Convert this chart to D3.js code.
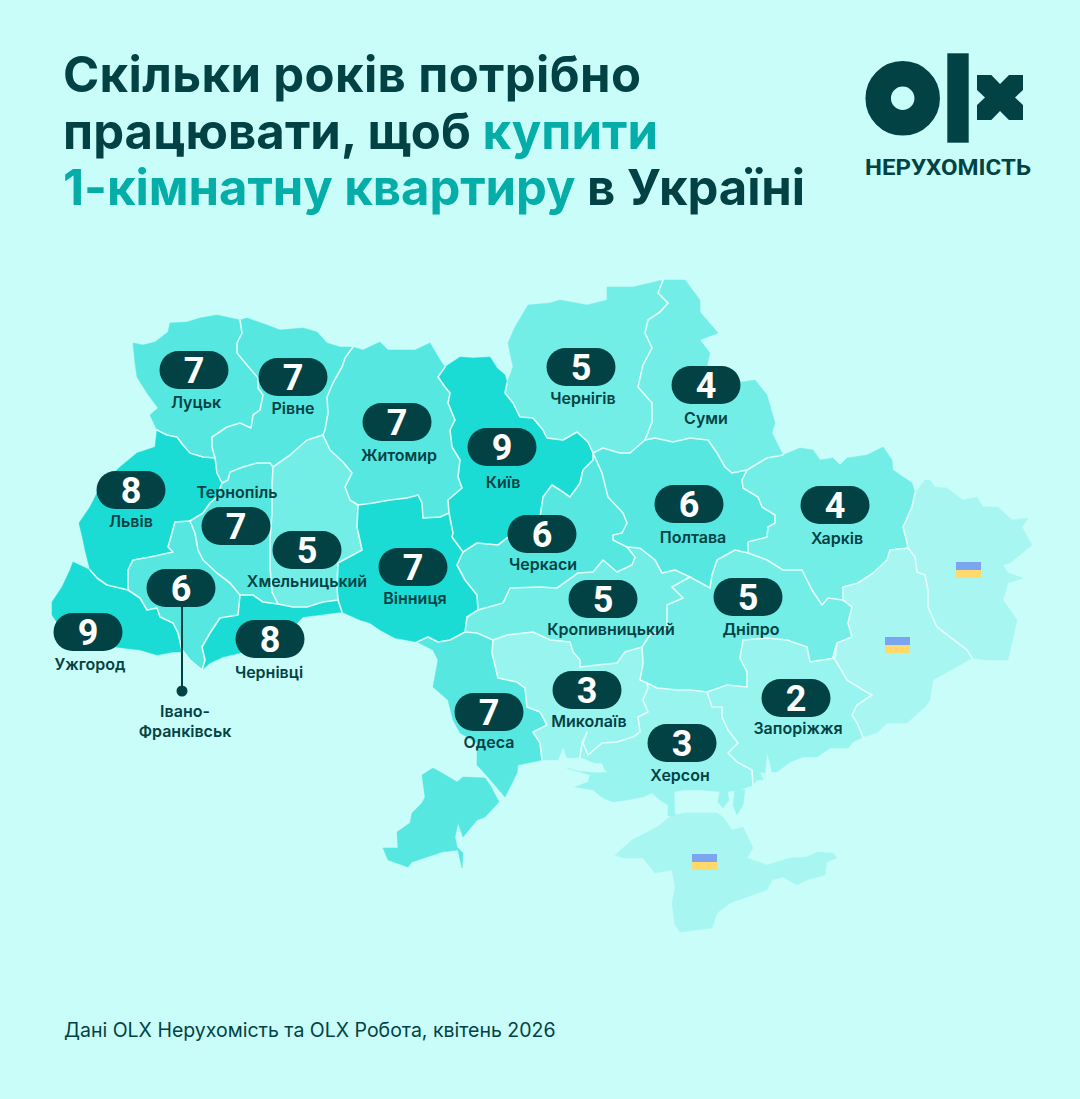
<!DOCTYPE html>
<html>
<head>
<meta charset="utf-8">
<script src="https://cdn.jsdelivr.net/npm/d3@7"></script>
<style>
  html, body { margin: 0; padding: 0; background: #c8fdf9; }
  text { font-family: "Inter", "Noto Sans", sans-serif; }
</style>
</head>
<body>
<div id="chart"></div>
<script>
// the values of the chart
const region_names = ["Луцьк", "Рівне", "Житомир", "Чернігів", "Суми", "Київ", "Львів", "Тернопіль", "Хмельницький", "Вінниця", "Черкаси", "Полтава", "Харків", "Кропивницький", "Дніпро", "Івано-Франківськ", "Чернівці", "Ужгород", "Одеса", "Миколаїв", "Херсон", "Запоріжжя"]
const region_years = [7, 7, 7, 5, 4, 9, 8, 7, 5, 7, 6, 6, 4, 5, 5, 6, 8, 9, 7, 3, 3, 2]
const region_shades = [2, 2, 2, 3, 3, 1, 1, 2, 3, 1, 2, 2, 3, 3, 3, 2, 1, 1, 2, 4, 4, 4]
const title_lines = [
  [["Скільки років потрібно", false]],
  [["працювати, щоб ", false], ["купити", true]],
  [["1-кімнатну квартиру", true], [" в Україні", false]]
]
const title_widths = [578, 595, 742]
const footer_text = "Дані OLX Нерухомість та OLX Робота, квітень 2026"
const logo_caption = "НЕРУХОМІСТЬ"

// pill centre, label centre for every region, same order as region_names
const pill_centres = [[194,370],[293,377],[397,422],[581,367],[706,385],[502,447],[131,490],[236,526],[307,550],[413,567],[542,534],[689,504],[835,505],[603,599],[748,597],[181,588],[270,639],[88,632],[489,712],[587,690],[682,743],[796,698]]
const label_centres = [[196,402],[293,408],[399,455],[583,398],[706,418],[503,482],[131,521],[237,492],[307,581],[415,598],[543,564],[693,537],[837,538],[611,629],[751,629],[185,711],[269,672],[90,664],[489,742],[589,721],[680,775],[798,728]]
const flag_corners = [[956,562],[885,637],[692,854]]

// region outlines, shared borders kept as arcs
const arcs = {
  vol_out: [[157,430],[150,415],[158,408],[147,393],[137,377],[135,363],[133,343],[143,345],[155,342],[168,332],[170,323],[187,322],[200,318],[217,315],[240,320]],
  vol_riv: [[240,320],[242,333],[237,343],[237,353],[247,365],[258,378],[258,388],[263,395],[260,410],[253,415],[251,428],[240,423],[227,427],[212,437],[212,447],[215,458]],
  vol_lvi: [[157,430],[167,435],[177,437],[183,445],[190,453],[203,457],[215,458]],
  riv_out: [[240,320],[247,318],[267,325],[280,330],[303,328],[317,332],[327,343],[340,347],[353,347]],
  riv_zhy: [[353,347],[345,358],[342,367],[333,383],[327,397],[328,413],[325,430],[323,435]],
  riv_khm: [[323,435],[307,440],[290,455],[273,467]],
  riv_ter: [[273,467],[270,463],[257,463],[243,467],[230,472],[228,480],[222,483]],
  riv_lvi: [[215,458],[217,473],[222,483]],
  ter_lvi: [[222,483],[217,497],[210,503],[203,513],[190,521]],
  ter_ivn: [[190,521],[195,533],[198,550],[203,560],[217,573],[230,583],[240,595]],
  ter_che: [[240,595],[253,595],[263,602],[278,604]],
  ter_khm: [[278,604],[272,592],[270,567],[270,540],[272,513],[272,487],[273,467]],
  khm_zhy: [[323,435],[330,450],[343,462],[352,473],[345,487],[350,500],[358,505]],
  khm_vin: [[358,505],[357,527],[362,550],[338,563],[337,587],[338,600]],
  khm_che: [[278,604],[293,607],[307,607],[323,602],[338,600]],
  che_vin: [[338,600],[342,612]],
  che_out: [[202,670],[210,663],[223,657],[240,653],[297,623],[303,617],[342,612]],
  ivn_che: [[240,595],[238,615],[220,618],[210,633],[202,647],[205,660],[202,670]],
  ivn_lvi: [[190,521],[175,522],[172,533],[168,547],[173,552],[150,557],[133,560],[128,570],[128,590]],
  zak_ivn: [[128,590],[140,598],[147,610],[157,608],[160,617],[173,623],[178,633],[182,650],[190,660],[202,670]],
  lvi_out: [[157,430],[155,447],[137,453],[120,467],[100,487],[90,507],[79,523],[83,540],[85,550],[90,570]],
  lvi_zak: [[90,570],[97,578],[107,585],[128,590]],
  zak_out: [[90,570],[73,562],[70,570],[62,587],[52,602],[52,615],[62,630],[80,640],[100,645],[123,648],[140,650],[157,655],[173,652],[183,652],[190,660],[202,670]],
  zhy_out: [[353,347],[363,350],[380,342],[388,350],[407,350],[415,350],[430,343],[440,360],[445,367]],
  zhy_kyi: [[445,367],[438,377],[445,387],[450,393],[448,403],[455,420],[450,430],[452,447],[460,460],[458,477],[462,488],[448,500],[449,513]],
  zhy_vin: [[358,505],[373,503],[390,500],[407,498],[418,495],[422,503],[423,518],[440,517],[449,513]],
  vin_kyi: [[449,513],[453,533],[452,537],[463,552]],
  vin_cher: [[463,552],[457,565],[465,580],[477,595],[478,610]],
  vin_kro: [[478,610],[467,617],[465,632]],
  vin_ode: [[465,632],[450,640],[438,642],[428,637],[417,642]],
  vin_out: [[342,612],[360,620],[370,623],[380,630],[395,638],[417,642]],
  kyi_out: [[445,367],[460,357],[473,358],[490,357],[497,368],[505,375],[507,383]],
  kyi_chn: [[507,383],[505,393],[513,403],[520,417],[533,418],[543,430],[547,438],[563,440],[577,432],[588,442],[593,453]],
  kyi_cher: [[593,453],[593,460],[583,470],[580,483],[570,497],[560,490],[552,485],[543,497],[540,517],[507,538],[498,545],[477,543],[463,552]],
  chn_out: [[507,383],[513,367],[508,343],[515,327],[528,305],[550,303],[560,300],[587,305],[607,300],[607,287],[633,287],[663,280]],
  chn_sum: [[663,280],[658,293],[668,303],[660,312],[648,320],[645,333],[652,348],[643,365],[638,387],[652,403],[652,422],[645,440]],
  chn_pol: [[645,440],[630,453],[620,453],[603,448],[593,453]],
  sum_out: [[663,280],[685,280],[700,300],[700,312],[718,333],[700,340],[710,353],[707,365],[725,378],[742,382],[755,380],[767,395],[775,423],[772,433],[783,455]],
  sum_kha: [[783,455],[767,458],[747,470]],
  sum_pol: [[747,470],[732,473],[725,467],[717,453],[708,440],[690,438],[673,442],[655,438],[645,440]],
  kha_out: [[783,455],[800,448],[813,450],[820,460],[833,458],[840,465],[847,458],[867,455],[883,447],[892,460],[893,470],[912,483],[915,493]],
  kha_luh: [[915,493],[912,507],[903,527],[907,542],[908,548]],
  kha_don: [[908,548],[890,550],[887,560],[873,573],[858,583],[843,587],[843,600]],
  kha_dni: [[843,600],[828,598],[822,605],[812,590],[802,570],[783,570],[767,560],[748,553]],
  kha_pol: [[748,553],[748,542],[767,537],[768,527],[775,523],[775,515],[762,507],[758,497],[743,488],[742,480],[747,470]],
  luh_out: [[915,493],[925,480],[930,480],[935,487],[947,488],[963,500],[977,497],[983,507],[998,507],[1012,520],[1028,518],[1022,527],[1032,545],[1010,563],[1003,565],[1008,573],[1023,578],[1008,583],[1003,600],[1017,620],[1008,660],[987,660],[972,658]],
  luh_don: [[908,548],[915,557],[917,572],[925,575],[928,590],[928,607],[937,627],[950,637],[967,650],[972,658]],
  don_coast: [[972,658],[960,665],[933,680],[930,700],[925,707],[907,723],[887,723],[877,733],[863,737]],
  don_zap: [[863,737],[857,723],[852,715],[857,705],[872,695],[863,690],[847,680],[837,663],[833,657],[837,643]],
  don_dni: [[843,600],[852,607],[848,623],[852,637],[837,643]],
  dni_zap: [[837,643],[835,658],[810,662],[807,647],[787,640],[767,638],[743,640],[740,658],[747,672],[747,687],[727,685],[707,692]],
  dni_khe: [[707,692],[690,690],[677,690],[657,688],[647,683]],
  dni_myk: [[647,683],[640,680],[643,663],[642,647]],
  dni_kro: [[642,647],[650,635],[667,628],[667,605],[683,598],[672,587],[690,577]],
  dni_pol: [[690,577],[710,588],[712,575],[717,560],[735,550],[748,553]],
  pol_kro: [[690,577],[675,570],[662,573],[655,560],[640,548],[627,547]],
  pol_cher: [[593,453],[602,473],[608,497],[623,513],[627,523],[622,533],[613,535],[613,540],[627,547]],
  cher_kro: [[627,547],[635,557],[632,565],[617,572],[603,560],[593,572],[578,573],[557,588],[540,587],[510,588],[503,603],[478,610]],
  kro_ode: [[465,632],[477,633],[493,640]],
  kro_myk: [[493,640],[507,635],[533,632],[550,640],[570,642],[573,652],[580,660],[580,667],[597,665],[617,663],[625,652],[642,647]],
  myk_ode: [[493,640],[492,653],[498,678],[517,682],[525,688],[527,707],[540,712],[547,725],[533,732],[540,743],[542,760]],
  ode_out: [[417,642],[433,650],[438,660],[433,687],[448,700],[453,720],[460,733],[477,743],[477,765],[488,777],[505,797],[517,773],[518,765],[542,760]],
  myk_khe: [[647,683],[648,688],[643,700],[648,712],[638,717],[640,732],[633,737],[617,742],[602,743],[588,755],[583,743],[587,732],[582,743],[580,757]],
  myk_coast: [[580,757],[573,758],[567,758],[563,747],[558,760],[542,760]],
  khe_coast: [[580,757],[595,763],[602,763],[605,770],[608,772],[597,773],[587,772],[577,771],[567,768],[580,772],[590,775],[588,782],[575,787],[593,790],[603,798],[613,802],[627,800],[643,797],[652,793],[660,800],[668,805],[668,816],[675,816],[674,792],[683,790],[703,790],[723,792],[740,790],[753,785]],
  khe_zap: [[707,692],[712,707],[722,707],[722,717],[728,730],[738,743],[728,753],[737,762],[752,770],[753,785]],
  zap_coast: [[753,785],[757,780],[763,780],[760,772],[765,773],[767,753],[770,763],[772,772],[777,772],[790,762],[803,757],[817,757],[830,748],[848,748],[853,742],[863,737]]
}

// pieces with no shared border
const budjak_ring = [[433,768],[422,775],[425,797],[422,803],[412,813],[410,823],[397,832],[398,848],[383,848],[388,860],[408,867],[412,862],[427,857],[442,852],[458,850],[462,868],[463,853],[457,847],[455,837],[458,823],[463,837],[477,820],[485,817],[499,802],[490,785],[485,778],[463,777],[457,782],[442,773],[433,768]]
const crimea_ring = [[615,855],[632,840],[657,827],[672,815],[687,813],[700,813],[717,813],[723,817],[732,830],[743,827],[753,848],[747,858],[767,865],[790,858],[807,857],[817,852],[833,853],[837,858],[827,862],[825,875],[807,880],[797,885],[783,877],[772,880],[767,890],[747,897],[730,903],[717,913],[712,928],[697,930],[680,932],[675,925],[672,903],[675,887],[672,870],[655,873],[643,858],[623,858],[615,855]]
const sivash_rings = [
  [[720,790],[727,790],[729,800],[723,808],[718,802],[720,790]],
  [[735,790],[745,790],[743,805],[737,815],[733,805],[735,790]]
]

const region_rings = {
  "Луцьк": ["vol_out", "vol_riv", "-vol_lvi"],
  "Рівне": ["riv_out", "riv_zhy", "riv_khm", "riv_ter", "-riv_lvi", "-vol_riv"],
  "Житомир": ["zhy_out", "zhy_kyi", "-zhy_vin", "-khm_zhy", "-riv_zhy"],
  "Чернігів": ["chn_out", "chn_sum", "chn_pol", "-kyi_chn"],
  "Суми": ["sum_out", "sum_kha", "sum_pol", "-chn_sum"],
  "Київ": ["kyi_out", "kyi_chn", "kyi_cher", "-vin_kyi", "-zhy_kyi"],
  "Львів": ["lvi_out", "lvi_zak", "-ivn_lvi", "-ter_lvi", "-riv_lvi", "-vol_lvi"],
  "Тернопіль": ["ter_lvi", "ter_ivn", "ter_che", "ter_khm", "riv_ter"],
  "Хмельницький": ["-riv_khm", "khm_zhy", "khm_vin", "-khm_che", "ter_khm"],
  "Вінниця": ["zhy_vin", "vin_kyi", "vin_cher", "vin_kro", "vin_ode", "-vin_out", "-che_vin", "-khm_vin"],
  "Черкаси": ["pol_cher", "cher_kro", "-vin_cher", "-kyi_cher"],
  "Полтава": ["-sum_pol", "-kha_pol", "-dni_pol", "pol_kro", "-pol_cher", "-chn_pol"],
  "Харків": ["kha_out", "kha_luh", "kha_don", "kha_dni", "kha_pol", "-sum_kha"],
  "Кропивницький": ["cher_kro", "vin_kro", "kro_ode", "kro_myk", "dni_kro", "pol_kro"],
  "Дніпро": ["don_dni", "dni_zap", "dni_khe", "dni_myk", "dni_kro", "dni_pol", "-kha_dni"],
  "Івано-Франківськ": ["ter_ivn", "ivn_che", "-zak_ivn", "-ivn_lvi"],
  "Чернівці": ["ter_che", "khm_che", "che_vin", "-che_out", "-ivn_che"],
  "Ужгород": ["zak_out", "-zak_ivn", "-lvi_zak"],
  "Одеса": ["ode_out", "-myk_ode", "-kro_ode", "vin_ode"],
  "Миколаїв": ["-kro_myk", "myk_ode", "-myk_coast", "-myk_khe", "dni_myk"],
  "Херсон": ["-dni_khe", "khe_zap", "-khe_coast", "-myk_khe"],
  "Запоріжжя": ["-dni_zap", "-don_zap", "-zap_coast", "-khe_zap"]
}
const occupied_rings = [
  ["luh_out", "-luh_don", "-kha_luh"],
  ["luh_don", "don_coast", "don_zap", "-don_dni", "-kha_don"]
]

const width = 1080
const height = 1099
const text_dark = "#034244"
const teal = "#04ada7"
const border_color = "#e2fffb"

const ring_from_arcs = (names) => {
  let ring = []
  for (const name of names) {
    let points = name.startsWith("-") ? arcs[name.slice(1)].slice().reverse() : arcs[name]
    ring = ring.concat(points)
  }
  return ring
}

const shade_scale = d3.scaleOrdinal()
  .domain([1, 2, 3, 4, 5])
  .range(["#1adcd5", "#55e7e0", "#72eee7", "#98f4ef", "#a8f6f2"])

const svg = d3.select("#chart")
  .append("svg")
  .attr("width", width)
  .attr("height", height)
  .style("display", "block")

svg.append("rect").attr("width", width).attr("height", height).attr("fill", "#c8fdf9")

// title
const title = svg.append("g").attr("font-size", 49).attr("font-weight", 700)
title_lines.forEach((line, i) => {
  let row = title.append("text")
    .attr("x", 63).attr("y", 92 + i * 56.5)
    .attr("textLength", title_widths[i])
    .style("white-space", "pre")
  line.forEach(([words, highlighted]) => {
    row.append("tspan").attr("fill", highlighted ? teal : text_dark).text(words)
  })
})

// map
const path = d3.geoPath(d3.geoIdentity())
const polygon_of = (ring) => ({ type: "Polygon", coordinates: [ring] })
const map = svg.append("g")

const region_fill = (name) => shade_scale(region_shades[region_names.indexOf(name)])
const fill_shape = (geometry, color) => {
  map.append("path")
    .attr("d", path(geometry))
    .attr("fill", color)
    .attr("stroke", color)
    .attr("stroke-width", 0.5)
}

fill_shape(polygon_of(budjak_ring), region_fill("Одеса"))
fill_shape(polygon_of(crimea_ring), shade_scale(5))
sivash_rings.forEach(ring => fill_shape(polygon_of(ring), shade_scale(4)))
occupied_rings.forEach(names => fill_shape(polygon_of(ring_from_arcs(names)), shade_scale(5)))
region_names.forEach(name => fill_shape(polygon_of(ring_from_arcs(region_rings[name])), region_fill(name)))

// only inner borders get the pale line, the coast and state border have none
Object.keys(arcs)
  .filter(name => !name.endsWith("_out") && !name.endsWith("_coast"))
  .forEach(name => {
    map.append("path")
      .attr("d", path({ type: "LineString", coordinates: arcs[name] }))
      .attr("fill", "none")
      .attr("stroke", border_color)
      .attr("stroke-width", 1.6)
      .attr("stroke-linejoin", "round")
      .attr("stroke-linecap", "round")
  })

// flags on the occupied regions
flag_corners.forEach(([x, y]) => {
  svg.append("rect").attr("x", x).attr("y", y).attr("width", 25).attr("height", 8).attr("fill", "#7ba5ef")
  svg.append("rect").attr("x", x).attr("y", y + 8).attr("width", 25).attr("height", 8).attr("fill", "#ffd96b")
})

// leader of Івано-Франківськ
const ivano = region_names.indexOf("Івано-Франківськ")
svg.append("line")
  .attr("x1", pill_centres[ivano][0] + 1).attr("x2", pill_centres[ivano][0] + 1)
  .attr("y1", pill_centres[ivano][1]).attr("y2", 691)
  .attr("stroke", text_dark).attr("stroke-width", 2)
svg.append("circle")
  .attr("cx", pill_centres[ivano][0] + 1).attr("cy", 691).attr("r", 5.5).attr("fill", text_dark)

// pills and labels
region_names.forEach((name, i) => {
  let [px, py] = pill_centres[i]
  svg.append("rect")
    .attr("x", px - 34.5).attr("y", py - 19)
    .attr("width", 69).attr("height", 38).attr("rx", 19)
    .attr("fill", text_dark)
  svg.append("text")
    .attr("x", px).attr("y", py + 12.5)
    .attr("text-anchor", "middle")
    .style("font-family", "Roboto")
    .attr("font-size", 36).attr("font-weight", 700)
    .attr("fill", "#ffffff")
    .text(region_years[i])

  let [lx, ly] = label_centres[i]
  let label_rows = name == "Івано-Франківськ" ? ["Івано-", "Франківськ"] : [name]
  label_rows.forEach((row, r) => {
    svg.append("text")
      .attr("x", lx).attr("y", ly + 5.5 + r * 20)
      .attr("text-anchor", "middle")
      .attr("font-size", 16).attr("font-weight", 600)
      .attr("fill", text_dark)
      .text(row)
  })
})

// logo
const logo = svg.append("g").attr("fill", text_dark)
logo.append("circle")
  .attr("cx", 902.7).attr("cy", 98.3).attr("r", 24.5)
  .attr("fill", "none").attr("stroke", text_dark).attr("stroke-width", 25.5)
logo.append("rect").attr("x", 947.3).attr("y", 53.3).attr("width", 21.4).attr("height", 89.4)
logo.append("path").attr("d", "M977 75H991.3L1000 84L1009 75H1023V90L1015 97.5L1023 105V120H1009L1000 111L991.3 120H977V105L985 97.5L977 90Z")
logo.append("text")
  .attr("x", 865).attr("y", 175)
  .style("font-family", "Roboto")
  .attr("font-size", 22.5).attr("font-weight", 700)
  .attr("textLength", 166).attr("lengthAdjust", "spacingAndGlyphs")
  .text(logo_caption)

// footer
svg.append("text")
  .attr("x", 64).attr("y", 1037)
  .attr("font-size", 19.5).attr("font-weight", 400)
  .attr("fill", text_dark)
  .text(footer_text)
</script>
</body>
</html>
